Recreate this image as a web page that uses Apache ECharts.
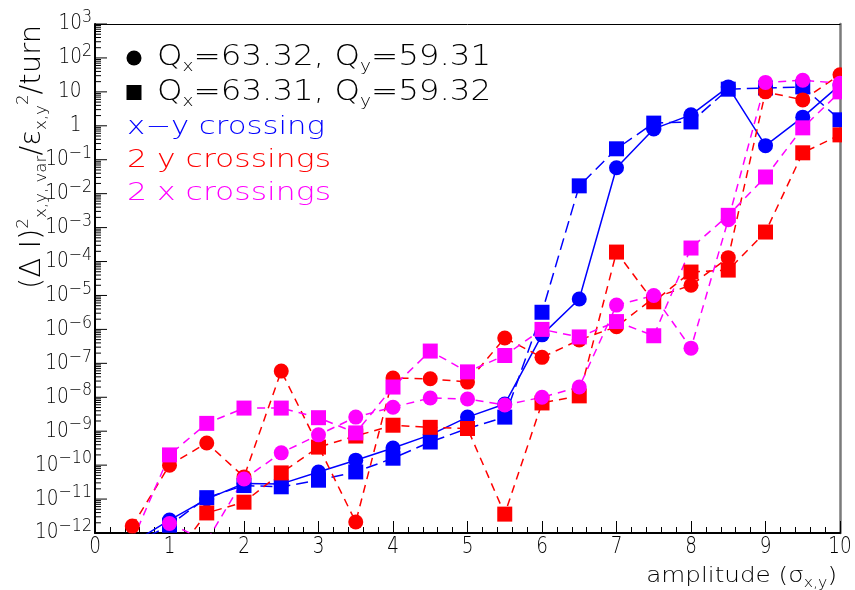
<!DOCTYPE html>
<html><head><meta charset="utf-8">
<script src="https://cdn.jsdelivr.net/npm/echarts@6/dist/echarts.min.js"></script>
<style>html,body{margin:0;padding:0;background:#fff}#c{width:855px;height:590px}</style>
</head><body><div id="c"></div>
<script>
// ---- data ----
const amplitude = [0.5, 1, 1.5, 2, 2.5, 3, 3.5, 4, 4.5, 5, 5.5, 6, 6.5, 7, 7.5, 8, 8.5, 9, 9.5, 10];

// circles: Qx=63.32, Qy=59.31 ; squares: Qx=63.31, Qy=59.32
const xyCrossingCircle = [5.1e-13, 2.4e-12, 1.0e-11, 2.9e-11, 2.8e-11, 6.3e-11, 1.4e-10, 3.2e-10, 7.8e-10, 2.6e-9, 6.3e-9, 6.9e-7, 7.9e-6, 5.8e-2, 0.81, 2.1, 14, 0.26, 1.8, 16];
const xyCrossingSquare = [4.5e-13, 1.7e-12, 1.1e-11, 2.5e-11, 2.3e-11, 3.6e-11, 6.3e-11, 1.6e-10, 4.8e-10, 1.2e-9, 2.6e-9, 3.2e-6, 1.7e-2, 0.21, 1.2, 1.3, 12, 13, 14, 1.5];
const yCrossCircle = [1.6e-12, 1.0e-10, 4.5e-10, 4.5e-11, 5.9e-8, 3.6e-10, 2.1e-12, 3.7e-8, 3.5e-8, 2.8e-8, 5.6e-7, 1.5e-7, 4.9e-7, 1.2e-6, 8.5e-6, 2.0e-5, 1.3e-4, 10, 5.8, 32];
const yCrossSquare = [null, 1.3e-13, 3.9e-12, 8.1e-12, 5.9e-11, 3.4e-10, 7.2e-10, 1.5e-9, 1.3e-9, 1.2e-9, 3.6e-12, 6.8e-9, 1.1e-8, 1.9e-4, 6.5e-6, 4.9e-5, 5.6e-5, 7.4e-4, 0.16, 0.54];
const xCrossCircle = [null, 1.9e-12, 5.8e-13, 3.9e-11, 2.3e-10, 7.8e-10, 2.6e-9, 5.1e-9, 9.5e-9, 8.9e-9, 5.9e-9, 1.0e-8, 2.0e-8, 5.2e-6, 1.0e-5, 2.8e-7, 1.7e-3, 19, 22, 18];
const xCrossSquare = [5.8e-13, 2.0e-10, 1.7e-9, 4.8e-9, 4.8e-9, 2.5e-9, 8.9e-10, 2.0e-8, 2.3e-7, 5.6e-8, 1.7e-7, 1.0e-6, 6.0e-7, 1.7e-6, 6.5e-7, 2.5e-4, 2.3e-3, 3.1e-2, 0.87, 10];

// ---- axes ----
const xMin = 0, xMax = 10;
const xTickValues = [0, 1, 2, 3, 4, 5, 6, 7, 8, 9, 10];
const yMin = 1e-12, yMax = 1e3;
const yMajorExponents = [-12, -11, -10, -9, -8, -7, -6, -5, -4, -3, -2, -1, 0, 1, 2, 3];
const minorMultipliers = [2, 3, 4, 5, 6, 7, 8, 9];

// ---- helpers ----
const TFONT = '"DejaVu Sans", "Liberation Sans", sans-serif';
const TW = 200;
const BLUE = '#0000ff', RED = '#ff0000', MAGENTA = '#ff00ff';

const minorTickValues = [];
yMajorExponents.slice(0, -1).forEach(e => minorMultipliers.forEach(m => minorTickValues.push(m * Math.pow(10, e))));
const majorTickValues = yMajorExponents.map(e => Math.pow(10, e));

function yLabel(v) {
  const e = Math.round(Math.log10(v));
  if (e === 0) return '{p|1}';
  if (e === 1) return '{p|10}';
  return '{b|10}{e|' + (e < 0 ? '\u2212' + (-e) : String(e)) + '}';
}

function mk(name, values, color, symbol, dash) {
  return {
    name, type: 'line',
    data: amplitude.map((x, i) => values[i] == null ? [x, '-'] : [x, values[i]]),
    symbol, symbolSize: 15, showAllSymbol: true,
    itemStyle: { color },
    lineStyle: { color, width: 1.5, type: dash },
    clip: true, silent: true,
    emphasis: { disabled: true }
  };
}

const chart = echarts.init(document.getElementById('c'), null, { renderer: 'canvas' });
chart.setOption({
  animation: false,
  backgroundColor: '#fff',
  grid: { left: 95, right: 15, top: 24, bottom: 57, containLabel: false },
  xAxis: [{
    type: 'value', min: xMin, max: xMax, interval: 1, position: 'bottom',
    axisLine: { show: true, lineStyle: { color: '#000', width: 2 } },
    axisTick: { show: true, inside: true, length: 12, lineStyle: { color: '#000', width: 1 } },
    minorTick: { show: true, splitNumber: 5, length: 6, lineStyle: { color: '#000', width: 1 } },
    axisLabel: { show: false },
    splitLine: { show: false }
  }, {
    type: 'value', min: xMin, max: xMax, position: 'top',
    axisLine: { show: true, onZero: false, lineStyle: { color: '#000', width: 1 } },
    axisTick: { show: false }, axisLabel: { show: false }, splitLine: { show: false }
  }],
  yAxis: [{
    type: 'log', logBase: 10, min: yMin, max: yMax, splitNumber: 15, position: 'left',
    axisLine: { show: true, onZero: false, lineStyle: { color: '#000', width: 2 } },
    axisTick: { show: false },
    axisLabel: { show: false },
    splitLine: { show: false }
  }, {
    type: 'value', min: 0, max: 1, position: 'right',
    axisLine: { show: true, onZero: false, lineStyle: { color: '#7a7a7a', width: 2.5 } },
    axisTick: { show: false }, axisLabel: { show: false }, splitLine: { show: false }
  }],
  series: [
    mk('x-y crossing, Qx=63.32', xyCrossingCircle, BLUE, 'circle', 'solid'),
    mk('x-y crossing, Qx=63.31', xyCrossingSquare, BLUE, 'rect', [12, 6]),
    mk('2 y crossings, Qx=63.32', yCrossCircle, RED, 'circle', [8, 6]),
    mk('2 y crossings, Qx=63.31', yCrossSquare, RED, 'rect', [8, 6]),
    mk('2 x crossings, Qx=63.32', xCrossCircle, MAGENTA, 'circle', [8, 6]),
    mk('2 x crossings, Qx=63.31', xCrossSquare, MAGENTA, 'rect', [8, 6]),
    {
      // log-axis minor ticks (2..9 x 10^n)
      type: 'custom', name: 'minorTicks', silent: true, clip: false, z: 5,
      data: minorTickValues.map(v => [xMin, v]),
      renderItem: function (params, api) {
        const p = api.coord([xMin, api.value(1)]);
        return { type: 'line', shape: { x1: p[0], y1: p[1], x2: p[0] + 6, y2: p[1] }, style: { stroke: '#000', lineWidth: 1 } };
      }
    },
    {
      // log-axis major ticks + labels (10^n)
      type: 'custom', name: 'yMajorTicks', silent: true, clip: false, z: 5,
      data: majorTickValues.map(v => [xMin, v]),
      renderItem: function (params, api) {
        const v = api.value(1);
        const p = api.coord([xMin, v]);
        return {
          type: 'group',
          children: [
            { type: 'line', shape: { x1: p[0], y1: p[1], x2: p[0] + 12, y2: p[1] }, style: { stroke: '#000', lineWidth: 1 } },
            {
              type: 'text', x: p[0] - 3, y: p[1], scaleX: 0.88,
              style: {
                text: yLabel(v), align: 'right', verticalAlign: 'middle',
                rich: {
                  b: { fontSize: 21, fontFamily: TFONT, fontWeight: TW, fill: '#000', lineHeight: 31, verticalAlign: 'middle' },
                  e: { fontSize: 18, fontFamily: TFONT, fontWeight: TW, fill: '#000', lineHeight: 18, verticalAlign: 'top' },
                  p: { fontSize: 21, fontFamily: TFONT, fontWeight: TW, fill: '#000', padding: [0, 12, 0, 0] }
                }
              }
            }
          ]
        };
      }
    },
    {
      // x-axis labels
      type: 'custom', name: 'xLabels', silent: true, clip: false, z: 5,
      data: xTickValues.map(v => [v, yMin]),
      renderItem: function (params, api) {
        const v = api.value(0);
        const p = api.coord([v, yMin]);
        return {
          type: 'text', x: p[0], y: p[1] + 14, scaleX: 0.8,
          style: { text: String(v), align: 'center', verticalAlign: 'middle', fontSize: 23, fontFamily: TFONT, fontWeight: TW, fill: '#000' }
        };
      }
    }
  ],
  graphic: [
    { type: 'rect', z: 100, silent: true, shape: { x: 842, y: 14, width: 13, height: 521 }, style: { fill: '#fff' } },
    { type: 'circle', z: 101, silent: true, shape: { cx: 134, cy: 58, r: 7.5 }, style: { fill: '#000' } },
    { type: 'rect', z: 101, silent: true, shape: { x: 126.5, y: 85, width: 15, height: 15 }, style: { fill: '#000' } },
    {
      type: 'text', z: 101, silent: true, x: 157, y: 58, scaleX: 1.16,
      style: {
        text: '{m|Q}{s|x}{m|=63.32, Q}{s|y}{m|=59.31}', verticalAlign: 'middle', align: 'left',
        rich: { m: { fontSize: 28, fontFamily: TFONT, fontWeight: TW, fill: '#000', lineHeight: 34, verticalAlign: 'middle' },
                s: { fontSize: 16, fontFamily: TFONT, fontWeight: TW, fill: '#000', lineHeight: 16, verticalAlign: 'bottom' } }
      }
    },
    {
      type: 'text', z: 101, silent: true, x: 157, y: 93, scaleX: 1.16,
      style: {
        text: '{m|Q}{s|x}{m|=63.31, Q}{s|y}{m|=59.32}', verticalAlign: 'middle', align: 'left',
        rich: { m: { fontSize: 28, fontFamily: TFONT, fontWeight: TW, fill: '#000', lineHeight: 34, verticalAlign: 'middle' },
                s: { fontSize: 16, fontFamily: TFONT, fontWeight: TW, fill: '#000', lineHeight: 16, verticalAlign: 'bottom' } }
      }
    },
    { type: 'text', z: 101, silent: true, x: 127, y: 128, scaleX: 1.28,
      style: { text: 'x\u2212y crossing', fill: BLUE, fontSize: 24, fontFamily: TFONT, fontWeight: TW, verticalAlign: 'middle', align: 'left' } },
    { type: 'text', z: 101, silent: true, x: 127, y: 161, scaleX: 1.31,
      style: { text: '2 y crossings', fill: RED, fontSize: 24, fontFamily: TFONT, fontWeight: TW, verticalAlign: 'middle', align: 'left' } },
    { type: 'text', z: 101, silent: true, x: 127, y: 194, scaleX: 1.31,
      style: { text: '2 x crossings', fill: MAGENTA, fontSize: 24, fontFamily: TFONT, fontWeight: TW, verticalAlign: 'middle', align: 'left' } },
    {
      type: 'text', z: 101, silent: true, x: 837, y: 576, scaleX: 1.12,
      style: {
        text: '{m|amplitude (\u03c3}{s|x,y}{m|)}', align: 'right', verticalAlign: 'middle',
        rich: { m: { fontSize: 22, fontFamily: TFONT, fontWeight: TW, fill: '#000', lineHeight: 28, verticalAlign: 'middle' },
                s: { fontSize: 14, fontFamily: TFONT, fontWeight: TW, fill: '#000', lineHeight: 14, verticalAlign: 'bottom' } }
      }
    },
    {
      type: 'text', z: 101, silent: true, x: 33, y: 157, rotation: Math.PI / 2, scaleX: 1.04,
      style: {
        text: '{m|(\u0394 I)}{sp|2}{sb|x,y, var}{m|/\u03b5}{sb|x,y}{sp|2}{m|/turn}', align: 'center', verticalAlign: 'middle',
        rich: { m: { fontSize: 28, fontFamily: TFONT, fontWeight: TW, fill: '#000', lineHeight: 34, verticalAlign: 'middle' },
                sp: { fontSize: 16, fontFamily: TFONT, fontWeight: TW, fill: '#000', lineHeight: 16, verticalAlign: 'top' },
                sb: { fontSize: 16, fontFamily: TFONT, fontWeight: TW, fill: '#000', lineHeight: 16, verticalAlign: 'bottom' } }
      }
    }
  ]
});
</script>
</body></html>
